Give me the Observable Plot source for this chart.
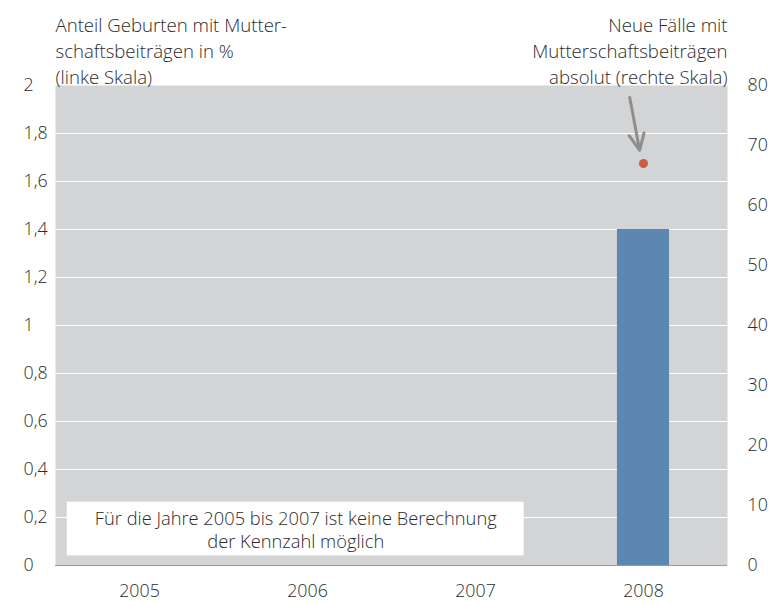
<!DOCTYPE html>
<html>
<head>
<meta charset="utf-8">
<script src="https://cdn.jsdelivr.net/npm/d3@7"></script>
<script src="https://cdn.jsdelivr.net/npm/@observablehq/plot@0.6"></script>
<style>
  html, body { margin: 0; padding: 0; background: #fff; }
  svg { font-family: "Open Sans", sans-serif; font-weight: 300; }
</style>
</head>
<body>
<div id="chart"></div>
<script>
// ---- data ----
const years = [2005, 2006, 2007, 2008];
const shareBirthsPct = [null, null, null, 1.4];   // left scale, %
const newCasesAbs = [null, null, null, 67];       // right scale, absolute
const leftTicks = [0, 0.2, 0.4, 0.6, 0.8, 1, 1.2, 1.4, 1.6, 1.8, 2];
const rightTicks = [0, 10, 20, 30, 40, 50, 60, 70, 80];
const leftTitle = "Anteil Geburten mit Mutter-\nschaftsbeiträgen in %\n(linke Skala)";
const rightTitle = "Neue Fälle mit\nMutterschaftsbeiträgen\nabsolut (rechte Skala)";
const noteText = "Für die Jahre 2005 bis 2007 ist keine Berechnung\nder Kennzahl möglich";
// annotation geometry (in data units)
const noteBox = [{x1: 2004.57, x2: 2007.29, y1: 0.04, y2: 0.264}];
const noteAnchor = [{x: 2005.93, y: 0.152}];
const arrowPos = [{x1: 2007.918, y1: 1.95, x2: 2007.977, y2: 1.73}];

const ratio = 40; // right / left
const barHalf = 0.155;

const data = years.map((y, i) => ({year: y, share: shareBirthsPct[i], cases: newCasesAbs[i]}));
const barData = data.filter(d => d.share != null);
const dotData = data.filter(d => d.cases != null);
const fmt = d => String(d).replace(".", ",");

const textColor = "#2b2b2b";

const chart = Plot.plot({
  width: 773,
  height: 606,
  marginTop: 85,
  marginBottom: 41,
  marginLeft: 55,
  marginRight: 46,
  style: {fontSize: "17.8px", color: textColor, fontFamily: "'Open Sans', sans-serif"},
  x: {domain: [2004.5, 2008.5]},
  y: {domain: [0, 2]},
  marks: [
    Plot.frame({fill: "#d3d4d6", stroke: null}),
    Plot.gridY(leftTicks.filter(d => d > 0 && d < 2), {stroke: "#ffffff", strokeOpacity: 1, strokeWidth: 1.2}),
    Plot.ruleY([0], {stroke: "#9a9a9a", strokeWidth: 1}),
    Plot.rect(noteBox, {x1: "x1", x2: "x2", y1: "y1", y2: "y2", fill: "#ffffff"}),
    Plot.text(noteAnchor, {x: "x", y: "y", text: () => noteText, lineHeight: 1.28, fill: textColor, fontSize: 18.3}),
    Plot.rectY(barData, {x1: d => d.year - barHalf, x2: d => d.year + barHalf, y: "share", fill: "#5b87b0"}),
    Plot.arrow(arrowPos, {x1: "x1", y1: "y1", x2: "x2", y2: "y2", stroke: "#8e8e8e", strokeWidth: 3, headLength: 10, headAngle: 50}),
    Plot.dot(dotData, {x: "year", y: d => d.cases / ratio, r: 4.5, fill: "#c9603e", stroke: null}),
    Plot.axisY(leftTicks, {anchor: "left", tickSize: 0, tickPadding: 3, textAnchor: "start", dx: -29, tickFormat: fmt, fill: textColor}),
    Plot.axisY(rightTicks.map(d => d / ratio), {anchor: "right", tickSize: 0, tickPadding: 20, textAnchor: "start", tickFormat: d => fmt(Math.round(d * ratio)), fill: textColor}),
    Plot.axisX(years, {anchor: "bottom", tickSize: 0, tickPadding: 19, tickFormat: d => String(d), fill: textColor}),
    Plot.text([leftTitle], {frameAnchor: "top-left", textAnchor: "start", lineAnchor: "bottom", dy: -2, lineHeight: 1.38, fill: textColor, fontSize: 18.6}),
    Plot.text([rightTitle], {frameAnchor: "top-right", textAnchor: "end", lineAnchor: "bottom", dy: -2, lineHeight: 1.38, fill: textColor, fontSize: 18.6})
  ]
});
document.getElementById("chart").appendChild(chart);
</script>
</body>
</html>
